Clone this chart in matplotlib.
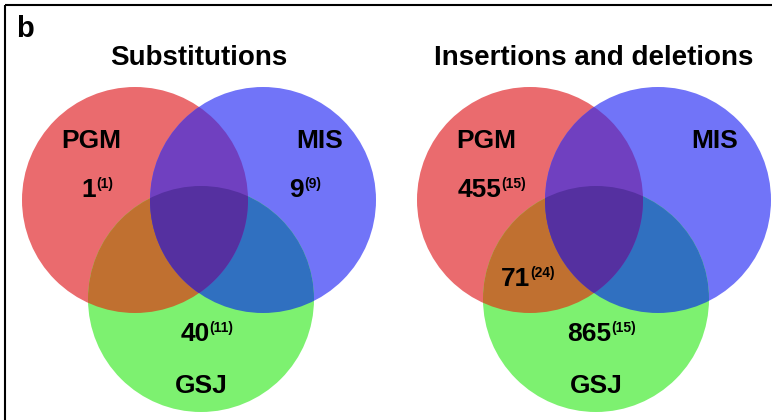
import numpy as np
import matplotlib.pyplot as plt
from matplotlib.patches import Circle, Polygon

plt.rcParams["font.family"] = ["Liberation Sans", "DejaVu Sans"]
plt.rcParams["font.weight"] = "bold"

set_names = ["PGM", "MIS", "GSJ"]
panel_titles = ["Substitutions", "Insertions and deletions"]

# region -> total count and (count in parentheses)
subs_regions = ["PGM", "MIS", "GSJ"]
subs_counts = [1, 9, 40]
subs_paren = [1, 9, 11]

indel_regions = ["PGM", "PGM&GSJ", "GSJ"]
indel_counts = [455, 71, 865]
indel_paren = [15, 24, 15]

set_colors = {"PGM": "#EA6B6E", "MIS": "#7174F8", "GSJ": "#7DF170"}
overlap_colors = {
    ("PGM", "GSJ"): "#C07030",
    ("MIS", "GSJ"): "#3070C0",
    ("PGM", "MIS"): "#7040C0",
}
triple_color = "#5530A0"

RADIUS = 113
# circle centres relative to the PGM circle
offsets = {"PGM": (0, 0), "MIS": (128, 0), "GSJ": (66, 99)}
name_pos = {"PGM": (-44, -52), "MIS": (185, -52), "GSJ": (66, 193)}
label_pos = {"PGM": (-38, -3), "MIS": (170, -3), "GSJ": (72, 141), "PGM&GSJ": (-2, 86)}


def lens(c1, c2, r, n=600):
    """Polygon of the intersection of two equal circles."""
    t = np.linspace(0, 2 * np.pi, n, endpoint=False)
    pts = []
    for a, b in ((c1, c2), (c2, c1)):
        p = np.column_stack([a[0] + r * np.cos(t), a[1] + r * np.sin(t)])
        inside = np.hypot(p[:, 0] - b[0], p[:, 1] - b[1]) <= r
        pts.append(p[inside])
    pts = np.vstack(pts)
    m = pts.mean(axis=0)
    order = np.argsort(np.arctan2(pts[:, 1] - m[1], pts[:, 0] - m[0]))
    return pts[order]


def draw_venn(ax, origin, title, regions, counts, paren):
    ox, oy = origin
    centres = {k: (ox + dx, oy + dy) for k, (dx, dy) in offsets.items()}

    for k in set_names:
        ax.add_patch(Circle(centres[k], RADIUS, fc=set_colors[k], lw=0))

    for (a, b), col in overlap_colors.items():
        p = ax.add_patch(Circle(centres[b], RADIUS, fc=col, lw=0))
        p.set_clip_path(Circle(centres[a], RADIUS, transform=ax.transData))

    p = ax.add_patch(Polygon(lens(centres["PGM"], centres["MIS"], RADIUS),
                             closed=True, fc=triple_color, lw=0))
    p.set_clip_path(Circle(centres["GSJ"], RADIUS, transform=ax.transData))

    ax.text(ox + 64, oy - 135, title, fontsize=20, ha="center", va="baseline")
    for k in set_names:
        dx, dy = name_pos[k]
        ax.text(ox + dx, oy + dy, k, fontsize=19, ha="center", va="baseline")

    renderer = ax.figure.canvas.get_renderer()
    for reg, n, m in zip(regions, counts, paren):
        dx, dy = label_pos[reg]
        x, y = ox + dx, oy + dy
        t = ax.text(x, y, str(n), fontsize=19, ha="left", va="baseline")
        s = ax.annotate(f"({m})", xy=(1, 1), xycoords=t, xytext=(0, 1),
                        textcoords="offset points", fontsize=10,
                        ha="left", va="top")
        w = t.get_window_extent(renderer).width + \
            s.get_window_extent(renderer).width
        t.set_x(x - w / 2)


fig = plt.figure(figsize=(7.72, 4.2), dpi=100)
ax = fig.add_axes([0, 0, 1, 1])
ax.set_xlim(0, 772)
ax.set_ylim(420, 0)
ax.axis("off")

draw_venn(ax, (135, 200), panel_titles[0], subs_regions, subs_counts, subs_paren)
draw_venn(ax, (530, 200), panel_titles[1], indel_regions, indel_counts, indel_paren)

ax.text(16, 37, "b", fontsize=21, ha="left", va="baseline")

# frame lines along the top and left edges
ax.plot([5, 772], [5, 5], color="black", lw=1.5, solid_capstyle="butt")
ax.plot([5, 5], [5, 420], color="black", lw=1.5, solid_capstyle="butt")

fig.savefig("out.png", dpi=100)
